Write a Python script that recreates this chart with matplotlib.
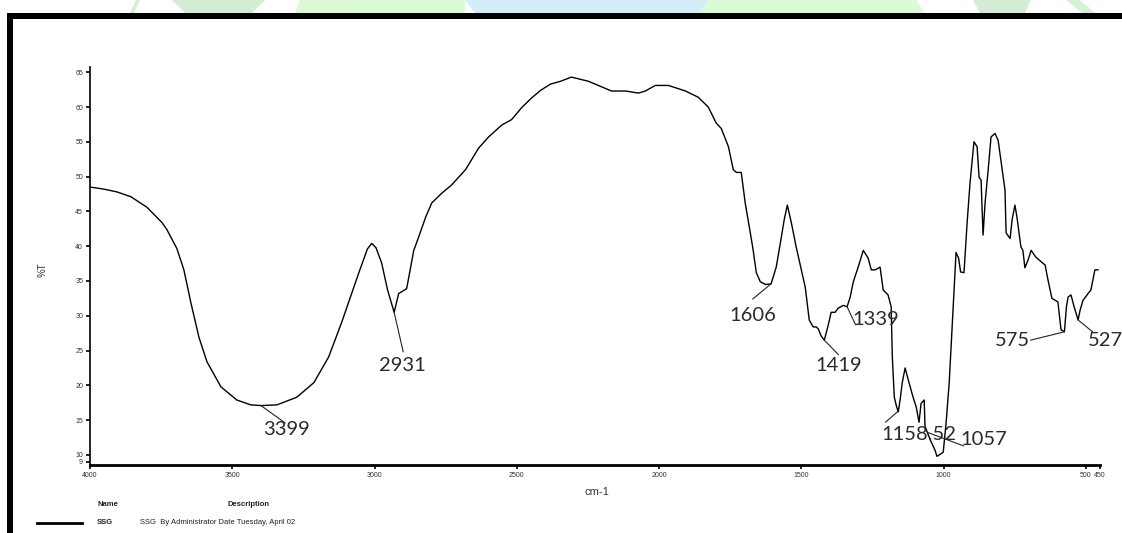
import numpy as np
import matplotlib
matplotlib.use("Agg")
import matplotlib.pyplot as plt
from matplotlib.patches import Rectangle, Polygon, Ellipse

# FTIR transmittance spectrum of sample SSG
wavenumber = [
    4000, 3951, 3905, 3856, 3800, 3747, 3730, 3695, 3670, 3645, 3617, 3589,
    3540, 3484, 3435, 3399, 3343, 3273, 3213, 3161, 3115, 3055, 3025, 3010,
    2995, 2975, 2954, 2931, 2915, 2887, 2873, 2862, 2845, 2820, 2799, 2764,
    2729, 2680, 2634, 2599, 2553, 2518, 2483, 2448, 2416, 2381, 2346, 2308,
    2248, 2213, 2167, 2118, 2072, 2048, 2013, 1967, 1907, 1862, 1827, 1799,
    1781, 1756, 1739, 1728, 1711, 1697, 1679, 1669, 1658, 1644, 1626, 1606,
    1588, 1570, 1560, 1549, 1535, 1518, 1500, 1486, 1472, 1458, 1447, 1440,
    1430, 1419, 1405, 1395, 1381, 1370, 1352, 1339, 1328, 1317, 1300, 1282,
    1265, 1254, 1240, 1223, 1212, 1195, 1184, 1180, 1173, 1166, 1159, 1152,
    1145, 1135, 1124, 1107, 1096, 1086, 1079, 1068, 1065, 1047, 1030, 1023,
    1001, 991, 980, 966, 956, 947, 940, 928, 917, 907, 893, 882,
    875, 868, 861, 854, 843, 833, 819, 808, 794, 784, 780, 766,
    759, 749, 742, 728, 721, 714, 703, 692, 675, 643, 633, 619,
    598, 587, 575, 568, 562, 552, 541, 527, 520, 510, 492, 482,
    468, 457,
]
transmittance = [
    48.5, 48.2, 47.8, 47.1, 45.6, 43.4, 42.4, 39.7, 36.6, 31.8, 26.9, 23.4,
    19.8, 17.9, 17.2, 17.1, 17.2, 18.3, 20.4, 24.1, 29.1, 36.2, 39.6, 40.4,
    39.8, 37.6, 33.7, 30.5, 33.2, 33.9, 37.0, 39.4, 41.3, 44.2, 46.2, 47.6,
    48.8, 51.0, 54.1, 55.7, 57.4, 58.2, 59.9, 61.3, 62.4, 63.3, 63.7, 64.3,
    63.7, 63.1, 62.3, 62.3, 62.0, 62.3, 63.1, 63.1, 62.3, 61.4, 60.0, 57.7,
    56.9, 54.3, 51.0, 50.6, 50.6, 46.2, 41.9, 39.4, 36.2, 34.9, 34.5, 34.6,
    37.0, 41.3, 43.8, 45.9, 43.4, 39.9, 36.6, 34.1, 29.4, 28.4, 28.4, 28.1,
    27.1, 26.5, 28.7, 30.5, 30.5, 31.1, 31.5, 31.3, 32.7, 34.9, 37.0, 39.4,
    38.3, 36.6, 36.6, 37.0, 33.7, 33.0, 31.3, 24.1, 18.3, 17.1, 16.2, 18.1,
    20.4, 22.5, 20.8, 18.3, 16.9, 14.7, 17.4, 17.9, 14.1, 12.2, 10.7, 9.8,
    10.4, 14.6, 20.4, 31.3, 39.1, 38.3, 36.3, 36.2, 43.4, 49.0, 55.0, 54.3,
    49.9, 49.5, 41.6, 46.2, 51.0, 55.7, 56.2, 55.2, 51.0, 48.1, 41.9, 41.1,
    43.8, 45.9, 44.2, 39.9, 39.4, 36.9, 38.0, 39.4, 38.4, 37.3, 35.2, 32.5,
    32.0, 28.0, 27.7, 31.3, 32.7, 33.0, 31.3, 29.4, 30.8, 32.2, 33.2, 33.7,
    36.6, 36.6,
]

# labelled bands: value, leader end (wn, %T), text position (wn, %T), alignment
peak_labels = ["3399", "2931", "1606", "1419", "1339", "1158.52", "1057", "575", "527"]
peak_values = [3399, 2931, 1606, 1419, 1339, 1158.52, 1057, 575, 527]
leader_ends = [(3314, 14.6), (2899, 24.8), (1671, 32.4), (1369, 24.4), (1309, 28.7),
               (1204, 14.7), (929, 11.3), (694, 26.5), (476, 27.7)]
label_pos = [(3311, 13.6), (2903, 22.9), (1671, 30.1), (1369, 22.8), (1239, 29.4),
             (1088, 12.9), (859, 12.2), (697, 26.5), (493, 26.4)]
label_ha = ["center", "center", "center", "center", "center", "center", "center",
            "right", "left"]

x_ticks = [4000, 3500, 3000, 2500, 2000, 1500, 1000, 500, 450]
x_tick_labels = ["4000", "3500", "3000", "2500", "2000", "1500", "1000", "500", "450"]
y_ticks = [9, 10, 15, 20, 25, 30, 35, 40, 45, 50, 55, 60, 65]
y_tick_labels = ["9", "10", "15", "20", "25", "30", "35", "40", "45", "50", "55", "60", "65"]

W, H = 1122, 533
fig = plt.figure(figsize=(W / 100, H / 100), dpi=100)
fig.patch.set_facecolor("white")


def fx(px):
    return px / W


def fy(py):
    return 1 - py / H


# faint logo shapes above the frame
deco = [
    ([(136, 0), (140, 0), (134, 13), (130, 13)], "#d6eed6"),
    ([(172, 0), (265, 0), (252, 13), (185, 13)], "#d3ecd3"),
    ([(300, 0), (350, 0), (340, 13), (295, 13)], "#daf9d4"),
    ([(350, 0), (465, 0), (465, 13), (340, 13)], "#dafbd6"),
    ([(465, 0), (709, 0), (700, 13), (475, 13)], "#d3eef6"),
    ([(709, 0), (916, 0), (925, 13), (700, 13)], "#dafbd6"),
    ([(973, 0), (1031, 0), (1025, 13), (980, 13)], "#d3ecd3"),
    ([(1066, 0), (1080, 0), (1095, 13), (1082, 13)], "#d8f2d8"),
]
for pts, col in deco:
    fig.patches.append(Polygon([(fx(a), fy(b)) for a, b in pts], closed=True,
                               transform=fig.transFigure, facecolor=col,
                               edgecolor="none", zorder=0))

# black frame (top and left bars)
fig.patches.append(Rectangle((fx(7), fy(19)), fx(W) - fx(7), fy(13) - fy(19),
                             transform=fig.transFigure, facecolor="black",
                             edgecolor="none", zorder=1))
fig.patches.append(Rectangle((fx(7), fy(H)), fx(13) - fx(7), fy(13) - fy(H),
                             transform=fig.transFigure, facecolor="black",
                             edgecolor="none", zorder=1))

ax = fig.add_axes([fx(90), fy(465), fx(1100) - fx(90), fy(67) - fy(465)])
ax.set_facecolor("none")
ax.plot(wavenumber, transmittance, color="black", lw=1.0)
ax.set_xlim(4000, 450)
ax.set_ylim(8.56, 65.75)

for side in ("top", "right"):
    ax.spines[side].set_visible(False)
ax.spines["bottom"].set_linewidth(2.0)
ax.spines["left"].set_linewidth(1.2)

ax.set_xticks(x_ticks)
ax.set_xticklabels(x_tick_labels)
ax.set_yticks(y_ticks)
ax.set_yticklabels(y_tick_labels)
ax.tick_params(axis="both", direction="out", length=3, width=1.2,
               labelsize=5, colors="black", pad=2)
for lab in ax.get_xticklabels() + ax.get_yticklabels():
    lab.set_family("Liberation Sans")
    lab.set_color("#333333")

wn_sorted = np.array(wavenumber[::-1], dtype=float)
t_sorted = np.array(transmittance[::-1], dtype=float)
for lab, val, end, pos, ha in zip(peak_labels, peak_values, leader_ends,
                                  label_pos, label_ha):
    yv = float(np.interp(val, wn_sorted, t_sorted))
    ax.annotate("", xy=(val, yv), xytext=end,
                arrowprops=dict(arrowstyle="-", lw=0.8, color="#222222",
                                shrinkA=0, shrinkB=0), annotation_clip=False)
    ax.text(pos[0], pos[1], lab, ha=ha, va="center", fontsize=14.5,
            family="Lato", color="#2a2a2a", clip_on=False)

fig.text(fx(597), fy(492), "cm-1", ha="center", va="center", fontsize=8,
         family="Liberation Sans", color="#333333")
fig.text(fx(43), fy(270), "%T", ha="center", va="center", fontsize=7,
         rotation=90, family="Liberation Sans", color="#333333")

# legend block under the plot
fig.text(fx(97), fy(505), "Name", ha="left", va="center", fontsize=5.5,
         family="Liberation Sans", weight="bold", color="#222222")
fig.text(fx(227), fy(505), "Description", ha="left", va="center", fontsize=5.5,
         family="Liberation Sans", weight="bold", color="#222222")
fig.add_artist(plt.Line2D([fx(37), fx(82)], [fy(523), fy(523)],
                          transform=fig.transFigure, color="black", lw=2.0))
fig.text(fx(97), fy(523), "SSG", ha="left", va="center", fontsize=5.5,
         family="Liberation Sans", weight="bold", color="#222222")
fig.text(fx(140), fy(523), "SSG  By Administrator Date Tuesday, April 02",
         ha="left", va="center", fontsize=5.5, family="Liberation Sans",
         color="#222222")

fig.savefig("out.png", dpi=100, facecolor="white")
